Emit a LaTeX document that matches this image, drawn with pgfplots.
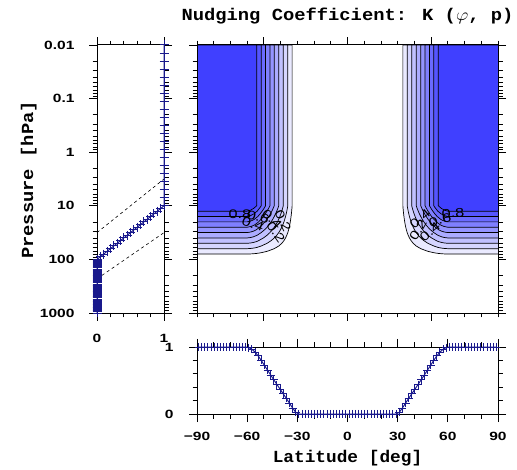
\documentclass[border=0pt]{standalone}
\usepackage{fontspec}
\usepackage{graphicx}
\usepackage{pgfplots}
\pgfplotsset{compat=1.18}
\usepackage{pgfplotstable}
\newfontfamily\tickf[FakeStretch=1.3]{Liberation Sans}
\newfontfamily\monof{Liberation Mono}
\definecolor{kb}{RGB}{64,64,255}
\definecolor{navy}{RGB}{25,25,140}

\pgfplotstableread{
k p
1 0.01
1 0.01413
1 0.01995
1 0.02818
1 0.03981
1 0.05623
1 0.07943
1 0.1122
1 0.1585
1 0.2239
1 0.3162
1 0.4467
1 0.6310
1 0.8913
1 1.259
1 1.778
1 2.512
1 3.548
1 5.012
1 7.079
1 10
0.95 11.22
0.90 12.59
0.85 14.13
0.80 15.85
0.75 17.78
0.70 19.95
0.65 22.39
0.60 25.12
0.55 28.18
0.50 31.62
0.45 35.48
0.40 39.81
0.35 44.67
0.30 50.12
0.25 56.23
0.20 63.10
0.15 70.79
0.10 79.43
0.05 89.13
0 100
0 104.7
0 109.6
0 114.8
0 120.2
0 125.9
0 131.8
0 138.0
0 144.5
0 151.4
0 158.5
0 166.0
0 173.8
0 182.0
0 190.5
0 199.5
0 208.9
0 218.8
0 229.1
0 239.9
0 251.2
0 263.0
0 275.4
0 288.4
0 302.0
0 316.2
0 331.1
0 346.7
0 363.1
0 380.2
0 398.1
0 416.9
0 436.5
0 457.1
0 478.6
0 501.2
0 524.8
0 549.5
0 575.4
0 602.6
0 631.0
0 660.7
0 691.8
0 724.4
0 758.6
0 794.3
0 831.8
0 871.0
0 912.0
0 955.0
0 1000
}\prof

\pgfplotstableread{
lat f
-89.0625 1
-87.1875 1
-85.3125 1
-83.4375 1
-81.5625 1
-79.6875 1
-77.8125 1
-75.9375 1
-74.0625 1
-72.1875 1
-70.3125 1
-68.4375 1
-66.5625 1
-64.6875 1
-62.8125 1
-60.9375 1
-59.0625 0.991
-57.1875 0.966
-55.3125 0.925
-53.4375 0.868
-51.5625 0.799
-49.6875 0.726
-47.8125 0.654
-45.9375 0.582
-44.0625 0.510
-42.1875 0.440
-40.3125 0.371
-38.4375 0.301
-36.5625 0.232
-34.6875 0.161
-32.8125 0.089
-30.9375 0.025
-29.0625 0
-27.1875 0
-25.3125 0
-23.4375 0
-21.5625 0
-19.6875 0
-17.8125 0
-15.9375 0
-14.0625 0
-12.1875 0
-10.3125 0
-8.4375 0
-6.5625 0
-4.6875 0
-2.8125 0
-0.9375 0
0.9375 0
2.8125 0
4.6875 0
6.5625 0
8.4375 0
10.3125 0
12.1875 0
14.0625 0
15.9375 0
17.8125 0
19.6875 0
21.5625 0
23.4375 0
25.3125 0
27.1875 0
29.0625 0
30.9375 0.025
32.8125 0.089
34.6875 0.161
36.5625 0.232
38.4375 0.301
40.3125 0.371
42.1875 0.440
44.0625 0.510
45.9375 0.582
47.8125 0.654
49.6875 0.726
51.5625 0.799
53.4375 0.868
55.3125 0.925
57.1875 0.966
59.0625 0.991
60.9375 1
62.8125 1
64.6875 1
66.5625 1
68.4375 1
70.3125 1
72.1875 1
74.0625 1
75.9375 1
77.8125 1
79.6875 1
81.5625 1
83.4375 1
85.3125 1
87.1875 1
89.0625 1
}\latprof

\pgfplotstableread{
lw le p
-90 90 0.01
-33.10 33.10 0.01
-33.10 33.10 10
-33.24 33.24 11.22
-33.39 33.39 12.59
-33.56 33.56 14.13
-33.75 33.75 15.85
-33.97 33.97 17.78
-34.21 34.21 19.95
-34.50 34.50 22.39
-34.83 34.83 25.12
-35.23 35.23 28.18
-35.70 35.70 31.62
-36.30 36.30 35.48
-37.05 37.05 39.81
-38.01 38.01 44.67
-39.30 39.30 50.12
-41.10 41.10 56.23
-43.80 43.80 63.10
-48.13 48.13 70.79
-51.60 51.60 74.99
-54.30 54.30 77.43
-56.30 56.30 78.47
-58.00 58.00 79.06
-60 60 79.43
-90 90 79.43
}\levA

\pgfplotstableread{
lw le p
-90 90 0.01
-35.70 35.70 0.01
-35.70 35.70 10
-35.98 35.98 11.22
-36.30 36.30 12.59
-36.65 36.65 14.13
-37.05 37.05 15.85
-37.50 37.50 17.78
-38.01 38.01 19.95
-38.61 38.61 22.39
-39.30 39.30 25.12
-40.12 40.12 28.18
-41.10 41.10 31.62
-42.30 42.30 35.48
-43.80 43.80 39.81
-45.66 45.66 44.67
-48.13 48.13 50.12
-51.60 51.60 56.23
-54.30 54.30 59.95
-56.30 56.30 61.59
-58.00 58.00 62.51
-60 60 63.10
-90 90 63.10
}\levB

\pgfplotstableread{
lw le p
-90 90 0.01
-38.40 38.40 0.01
-38.40 38.40 10
-38.83 38.83 11.22
-39.30 39.30 12.59
-39.83 39.83 14.13
-40.43 40.43 15.85
-41.10 41.10 17.78
-41.87 41.87 19.95
-42.76 42.76 22.39
-43.80 43.80 25.12
-44.98 44.98 28.18
-46.40 46.40 31.62
-48.13 48.13 35.48
-50.30 50.30 39.81
-53.14 53.14 44.67
-54.30 54.30 46.42
-56.30 56.30 48.33
-58.00 58.00 49.42
-60 60 50.12
-90 90 50.12
}\levC

\pgfplotstableread{
lw le p
-90 90 0.01
-41.10 41.10 0.01
-41.10 41.10 10
-41.67 41.67 11.22
-42.30 42.30 12.59
-43.01 43.01 14.13
-43.80 43.80 15.85
-44.67 44.67 17.78
-45.66 45.66 19.95
-46.80 46.80 22.39
-48.13 48.13 25.12
-49.71 49.71 28.18
-51.60 51.60 31.62
-54.00 54.00 35.48
-56.30 56.30 37.93
-58.00 58.00 39.07
-60 60 39.81
-90 90 39.81
}\levD

\pgfplotstableread{
lw le p
-90 90 0.01
-43.80 43.80 0.01
-43.80 43.80 10
-44.48 44.48 11.22
-45.24 45.24 12.59
-46.09 46.09 14.13
-47.05 47.05 15.85
-48.13 48.13 17.78
-49.37 49.37 19.95
-50.80 50.80 22.39
-52.50 52.50 25.12
-54.66 54.66 28.18
-56.30 56.30 29.77
-58.00 58.00 30.89
-60 60 31.62
-90 90 31.62
}\levE

\pgfplotstableread{
lw le p
-90 90 0.01
-46.40 46.40 0.01
-46.40 46.40 10
-47.22 47.22 11.22
-48.13 48.13 12.59
-49.15 49.15 14.13
-50.30 50.30 15.85
-51.60 51.60 17.78
-53.14 53.14 19.95
-55.22 55.22 22.39
-56.30 56.30 23.36
-58.00 58.00 24.43
-60 60 25.12
-90 90 25.12
}\levF

\pgfplotstableread{
lw le p
-90 90 0.01
-49.00 49.00 0.01
-49.00 49.00 10
-49.96 49.96 11.22
-51.02 51.02 12.59
-52.24 52.24 14.13
-53.63 53.63 15.85
-55.63 55.63 17.78
-56.30 56.30 18.34
-58.00 58.00 19.31
-60 60 19.95
-90 90 19.95
}\levG

\pgfplotstableread{
lw le p
-90 90 0.01
-51.60 51.60 0.01
-51.60 51.60 10
-52.74 52.74 11.22
-54.00 54.00 12.59
-55.95 55.95 14.13
-58.00 58.00 15.27
-60 60 15.85
-90 90 15.85
}\levH

\pgfplotstableread{
lw le p
-90 90 0.01
-54.30 54.30 0.01
-54.30 54.30 10
-56.19 56.19 11.22
-58.00 58.00 12.07
-60 60 12.59
-90 90 12.59
}\levI

\tikzset{
  clab/.style={font=\tickf\fontsize{12.5}{13}\selectfont, inner sep=0pt},
}

\begin{document}
\begin{tikzpicture}
\useasboundingbox (0,0) rectangle (517bp,470bp);

% left profile
\begin{axis}[scale only axis, anchor=south west, axis on top,
  tick align=outside, major tick length=8bp, minor tick length=4.5bp,
  tick style={black, line width=0.8pt},
  axis line style={black, line width=1pt},
  ticklabel style={font=\tickf\bfseries\fontsize{12}{13}\selectfont},
  at={(97bp,157bp)}, width=67bp, height=268bp,
  xmin=0, xmax=1, xtick={0,1}, xticklabels={0,1},
  minor xtick={0.2,0.4,0.6,0.8},
  ymode=log, ymin=0.01, ymax=1000, y dir=reverse,
  ytick={0.01,0.1,1,10,100,1000},
  minor ytick={0.02,0.03,0.04,0.05,0.06,0.07,0.08,0.09,
      0.2,0.3,0.4,0.5,0.6,0.7,0.8,0.9,2,3,4,5,6,7,8,9,
      20,30,40,50,60,70,80,90,200,300,400,500,600,700,800,900},
  yticklabels={0.01,0.1,1,10,100,1000},
  yticklabel style={xshift=-11bp},
  xticklabel style={yshift=-10bp},
  clip=false]
\addplot[black, dashed, line width=0.6pt] coordinates {(0,31.62) (1,3.162)};
\addplot[black, dashed, line width=0.6pt] coordinates {(0,230) (1,31.62)};
\addplot[navy, line width=1pt, mark=+, mark size=4.5bp] table[x=k, y=p]{\prof};
\end{axis}

% main contour panel
\begin{axis}[scale only axis, anchor=south west, axis on top,
  tick align=outside, major tick length=8bp, minor tick length=4.5bp,
  tick style={black, line width=0.8pt},
  axis line style={black, line width=1pt},
  at={(197bp,157bp)}, width=301bp, height=268bp,
  xmin=-90, xmax=90, xtick={-50,0,50}, minor xtick={-90,-80,...,90},
  ymode=log, ymin=0.01, ymax=1000, y dir=reverse,
  ytick={0.01,0.1,1,10,100,1000},
  minor ytick={0.02,0.03,0.04,0.05,0.06,0.07,0.08,0.09,
      0.2,0.3,0.4,0.5,0.6,0.7,0.8,0.9,2,3,4,5,6,7,8,9,
      20,30,40,50,60,70,80,90,200,300,400,500,600,700,800,900},
  xticklabels={}, yticklabels={}]
\addplot[draw=black, line width=0.7pt, fill=kb!11!white] table[x=lw,y=p]{\levA};
\addplot[draw=black, line width=0.7pt, fill=kb!11!white] table[x=le,y=p]{\levA};
\addplot[draw=black, line width=0.7pt, fill=kb!22!white] table[x=lw,y=p]{\levB};
\addplot[draw=black, line width=0.7pt, fill=kb!22!white] table[x=le,y=p]{\levB};
\addplot[draw=black, line width=0.7pt, fill=kb!33!white] table[x=lw,y=p]{\levC};
\addplot[draw=black, line width=0.7pt, fill=kb!33!white] table[x=le,y=p]{\levC};
\addplot[draw=black, line width=0.7pt, fill=kb!44!white] table[x=lw,y=p]{\levD};
\addplot[draw=black, line width=0.7pt, fill=kb!44!white] table[x=le,y=p]{\levD};
\addplot[draw=black, line width=0.7pt, fill=kb!56!white] table[x=lw,y=p]{\levE};
\addplot[draw=black, line width=0.7pt, fill=kb!56!white] table[x=le,y=p]{\levE};
\addplot[draw=black, line width=0.7pt, fill=kb!67!white] table[x=lw,y=p]{\levF};
\addplot[draw=black, line width=0.7pt, fill=kb!67!white] table[x=le,y=p]{\levF};
\addplot[draw=black, line width=0.7pt, fill=kb!78!white] table[x=lw,y=p]{\levG};
\addplot[draw=black, line width=0.7pt, fill=kb!78!white] table[x=le,y=p]{\levG};
\addplot[draw=black, line width=0.7pt, fill=kb!89!white] table[x=lw,y=p]{\levH};
\addplot[draw=black, line width=0.7pt, fill=kb!89!white] table[x=le,y=p]{\levH};
\addplot[draw=black, line width=0.7pt, fill=kb] table[x=lw,y=p]{\levI};
\addplot[draw=black, line width=0.7pt, fill=kb] table[x=le,y=p]{\levI};
\node[clab] at (axis cs:-64.3,14.2) {0.8};
\node[clab, rotate=-15] at (axis cs:-53.5,16.2) {0.6};
\node[clab, rotate=-45] at (axis cs:-45.1,17.6) {0.4};
\node[clab, rotate=-65] at (axis cs:-38.6,19.2) {0.2};
\node[clab, rotate=-20] at (axis cs:-56.5,21.9) {0.4};
\node[clab, rotate=-55] at (axis cs:-42.8,30.8) {0.2};
\node[clab, rotate=5] at (axis cs:63.1,13.6) {0.8};
\node[clab, rotate=15] at (axis cs:55.3,18.4) {0.6};
\node[clab, rotate=40] at (axis cs:43.4,17.6) {0.4};
\node[clab, rotate=60] at (axis cs:42.2,28.3) {0.2};
\node[clab, rotate=40] at (axis cs:49.3,30.8) {0.4};
\end{axis}

% bottom latitude profile
\begin{axis}[scale only axis, anchor=south west, axis on top,
  tick align=outside, major tick length=8bp, minor tick length=4.5bp,
  tick style={black, line width=0.8pt},
  axis line style={black, line width=1pt},
  ticklabel style={font=\tickf\bfseries\fontsize{12}{13}\selectfont},
  at={(197bp,56bp)}, width=301bp, height=67bp,
  xmin=-90, xmax=90, ymin=0, ymax=1,
  xtick={-90,-60,-30,0,30,60,90},
  xticklabels={−90,−60,−30,0,30,60,90},
  minor xtick={-80,-70,-50,-40,-20,-10,10,20,40,50,70,80},
  ytick={0,1}, yticklabels={0,1}, minor ytick={0.2,0.4,0.6,0.8},
  yticklabel style={xshift=-12bp},
  xticklabel style={yshift=-7bp},
  clip=false]
\addplot[navy, line width=1pt, mark=+, mark size=4bp] table[x=lat, y=f]{\latprof};
\end{axis}

\node[anchor=base] at (347.5bp,449bp)
  {\scalebox{1.11}[1]{\monof\bfseries\fontsize{17}{19}\selectfont Nudging Coefficient: K ($\varphi$, p)}};
\node[anchor=base, rotate=90] at (33bp,290bp)
  {\scalebox{1.11}[1]{\monof\bfseries\fontsize{17}{19}\selectfont Pressure [hPa]}};
\node[anchor=base] at (347.5bp,8bp)
  {\scalebox{1.05}[1]{\monof\bfseries\fontsize{17}{19}\selectfont Latitude [deg]}};
\end{tikzpicture}
\end{document}
